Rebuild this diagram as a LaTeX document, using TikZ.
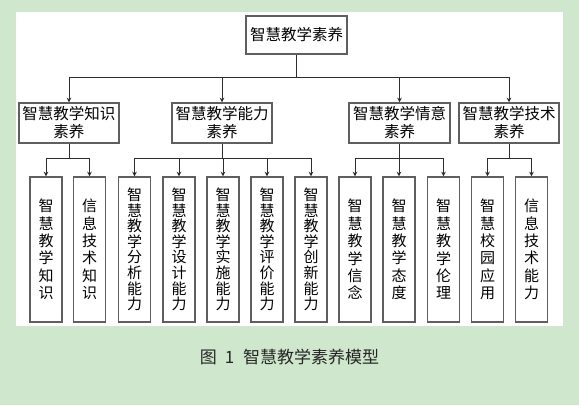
\documentclass[tikz,border=0pt]{standalone}
\usepackage{fontspec}
\setmainfont{Noto Sans CJK SC}
\usetikzlibrary{arrows.meta,shadows}
\definecolor{bggreen}{RGB}{207,231,204}
\definecolor{boxline}{RGB}{95,95,95}
\definecolor{linkcol}{RGB}{45,45,45}
\tikzset{
    card/.style={draw=boxline, line width=1.5pt, fill=white, inner sep=0pt,
        drop shadow={shadow xshift=0.8pt, shadow yshift=-0.8pt, fill=black!25}},
    topbox/.style={card, minimum width=101pt, minimum height=38pt,
        font=\fontsize{15.5}{18}\selectfont},
    midbox/.style={card, minimum width=100pt, minimum height=40pt, align=center,
        font=\fontsize{15.5}{18}\selectfont},
    leafbox/.style={card, minimum width=32pt, minimum height=145pt, align=center},
    link/.style={line width=1pt, draw=linkcol},
    arr/.style={link, -{Stealth[length=4.5pt,width=4.5pt]}}
}
\begin{document}
\begin{tikzpicture}[x=1pt,y=-1pt]
    % background and white panel
    \fill[bggreen] (0,0) rectangle (579,405);
    \fill[white] (16,12) rectangle (563,326);
    \useasboundingbox (0,0) rectangle (579,405);
    % top
    \node[topbox] (top) at (296.5,35) {智慧教学素养};
    % second level
    \node[midbox] (know) at (69,123) {智慧教学知识\\素养};
    \node[midbox] (abil) at (222,123) {智慧教学能力\\素养};
    \node[midbox, minimum width=101pt] (emot) at (399.5,123) {智慧教学情意\\素养};
    \node[midbox] (tech) at (509,123) {智慧教学技术\\素养};
    \foreach \k in {know,abil,emot,tech}
        \draw[arr] (top.south) -- ++(0,23) -| (\k.north);
    % leaves
    \foreach \n/\x/\sp/\t in {
        kn1/46/17.4/{智\\慧\\教\\学\\知\\识},
        kn2/89.5/17.4/{信\\息\\技\\术\\知\\识},
        ab1/134.5/15.6/{智\\慧\\教\\学\\分\\析\\能\\力},
        ab2/179/15.6/{智\\慧\\教\\学\\设\\计\\能\\力},
        ab3/223/15.6/{智\\慧\\教\\学\\实\\施\\能\\力},
        ab4/267/15.6/{智\\慧\\教\\学\\评\\价\\能\\力},
        ab5/311/15.6/{智\\慧\\教\\学\\创\\新\\能\\力},
        em1/355/17.4/{智\\慧\\教\\学\\信\\念},
        em2/399/17.4/{智\\慧\\教\\学\\态\\度},
        em3/443.5/17.4/{智\\慧\\教\\学\\伦\\理},
        te1/487.5/17.4/{智\\慧\\校\\园\\应\\用},
        te2/531.5/17.4/{信\\息\\技\\术\\能\\力}}
        \node[leafbox, font=\fontsize{15}{\sp}\selectfont] (\n) at (\x,249.5) {\t};
    \foreach \p/\c in {know/kn1,know/kn2,abil/ab1,abil/ab2,abil/ab3,abil/ab4,abil/ab5,
        emot/em1,emot/em2,emot/em3,tech/te1,tech/te2}
        \draw[arr] (\p.south) -- ++(0,15) -| (\c.north);
    % caption
    \node[font=\fontsize{17}{20}\selectfont, text=black!85] (cap) at (289.5,357)
        {图\hspace{8pt}1\hspace{9pt}智慧教学素养模型};
\end{tikzpicture}
\end{document}
